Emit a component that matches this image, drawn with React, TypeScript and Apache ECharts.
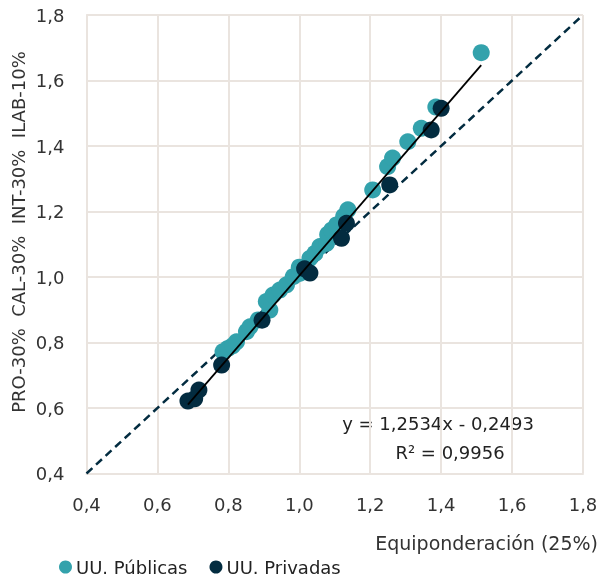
import React, { useEffect, useRef } from "react";
import * as echarts from "echarts";

const publicPoints: [number, number][] = [
  [0.785, 0.772], [0.799, 0.782], [0.812, 0.79], [0.823, 0.802], [0.851, 0.833],
  [0.861, 0.848], [0.884, 0.869], [0.907, 0.925], [0.917, 0.899], [0.926, 0.945],
  [0.945, 0.96], [0.964, 0.976], [0.983, 1.001], [1.001, 1.011], [1.0, 1.03],
  [1.03, 1.057], [1.044, 1.072], [1.058, 1.093], [1.077, 1.103], [1.08, 1.13],
  [1.091, 1.143], [1.105, 1.159], [1.125, 1.185], [1.137, 1.205], [1.207, 1.266],
  [1.249, 1.337], [1.263, 1.363], [1.306, 1.413], [1.344, 1.454], [1.385, 1.519],
  [1.513, 1.685],
];
const privatePoints: [number, number][] = [
  [0.686, 0.621], [0.705, 0.628], [0.717, 0.655], [0.781, 0.731], [0.895, 0.868],
  [1.015, 1.025], [1.03, 1.012], [1.119, 1.118], [1.133, 1.164], [1.255, 1.281],
  [1.372, 1.449], [1.4, 1.515],
];
const slope = 1.2534;
const intercept = -0.2493;
const trendRange = [0.686, 1.513];
const identityRange = [0.4, 1.8];

const TEAL = "#33A2AC";
const NAVY = "#032C40";
const FONT = "DejaVu Sans";
const FS = 18;
const GRID_COLOR = "#EAE4DF";

export default function App() {
  const ref = useRef<HTMLDivElement>(null);
  useEffect(() => {
    if (!ref.current) return;
    const chart = echarts.init(ref.current, undefined, { renderer: "svg" });
    const fmt = (v: number) => v.toFixed(1).replace(".", ",");
    chart.setOption({
      animation: false,
      textStyle: { fontFamily: FONT },
      grid: { left: 86.5, top: 15, right: 19, bottom: 106.5, outerBoundsMode: "none", containLabel: false },
      legend: {
        left: 54,
        top: 553,
        itemWidth: 13,
        itemHeight: 13,
        itemGap: 22,
        icon: "circle",
        textStyle: { fontSize: FS, color: "#222", fontFamily: FONT, padding: [0, 0, 0, -1] },
        data: ["UU. Públicas", "UU. Privadas"],
      },
      xAxis: {
        type: "value",
        min: 0.4,
        max: 1.8,
        interval: 0.2,
        axisLine: { show: true, lineStyle: { color: GRID_COLOR, width: 2 } },
        axisTick: { show: false },
        splitLine: { lineStyle: { color: GRID_COLOR, width: 2 } },
        axisLabel: { fontSize: FS, color: "#333", margin: 22, formatter: fmt },
      },
      yAxis: {
        type: "value",
        min: 0.4,
        max: 1.8,
        interval: 0.2,
        axisLine: { show: true, lineStyle: { color: GRID_COLOR, width: 2 } },
        axisTick: { show: false },
        splitLine: { lineStyle: { color: GRID_COLOR, width: 2 } },
        axisLabel: { fontSize: FS, color: "#333", margin: 22, formatter: fmt },
      },
      series: [
        {
          name: "identity",
          type: "line",
          data: identityRange.map((v) => [v, v]),
          symbol: "none",
          lineStyle: { color: NAVY, width: 2.5, type: [8, 5] },
          z: 1,
          silent: true,
        },
        {
          name: "UU. Públicas",
          type: "scatter",
          data: publicPoints,
          symbolSize: 17,
          itemStyle: { color: TEAL, opacity: 1 },
          z: 2,
        },
        {
          name: "UU. Privadas",
          type: "scatter",
          data: privatePoints,
          symbolSize: 17,
          itemStyle: { color: NAVY, opacity: 1 },
          z: 3,
        },
        {
          name: "trend",
          type: "line",
          data: trendRange.map((x) => [x, slope * x + intercept]),
          symbol: "none",
          lineStyle: { color: "#000", width: 1.8 },
          z: 4,
          silent: true,
        },
      ],
      graphic: [
        {
          type: "text",
          x: 18,
          y: 232,
          rotation: Math.PI / 2,
          style: { text: "PRO-30%  CAL-30%  INT-30%  ILAB-10%", fontSize: FS, fill: "#333", fontFamily: FONT, align: "center", verticalAlign: "middle" },
        },
        {
          type: "text",
          x: 598,
          y: 543,
          style: { text: "Equiponderación (25%)", fontSize: 19, fill: "#333", fontFamily: FONT, align: "right", verticalAlign: "middle" },
        },
        {
          type: "text",
          x: 438,
          y: 423,
          style: { text: "y = 1,2534x - 0,2493", fontSize: FS, fill: "#222", fontFamily: FONT, align: "center", verticalAlign: "middle" },
        },
        {
          type: "text",
          x: 450,
          y: 452,
          style: { text: "R² = 0,9956", fontSize: FS, fill: "#222", fontFamily: FONT, align: "center", verticalAlign: "middle" },
        },
      ],
    });
    return () => chart.dispose();
  }, []);
  return <div ref={ref} style={{ position: "fixed", left: 0, top: 0, width: 602, height: 580 }} />;
}
